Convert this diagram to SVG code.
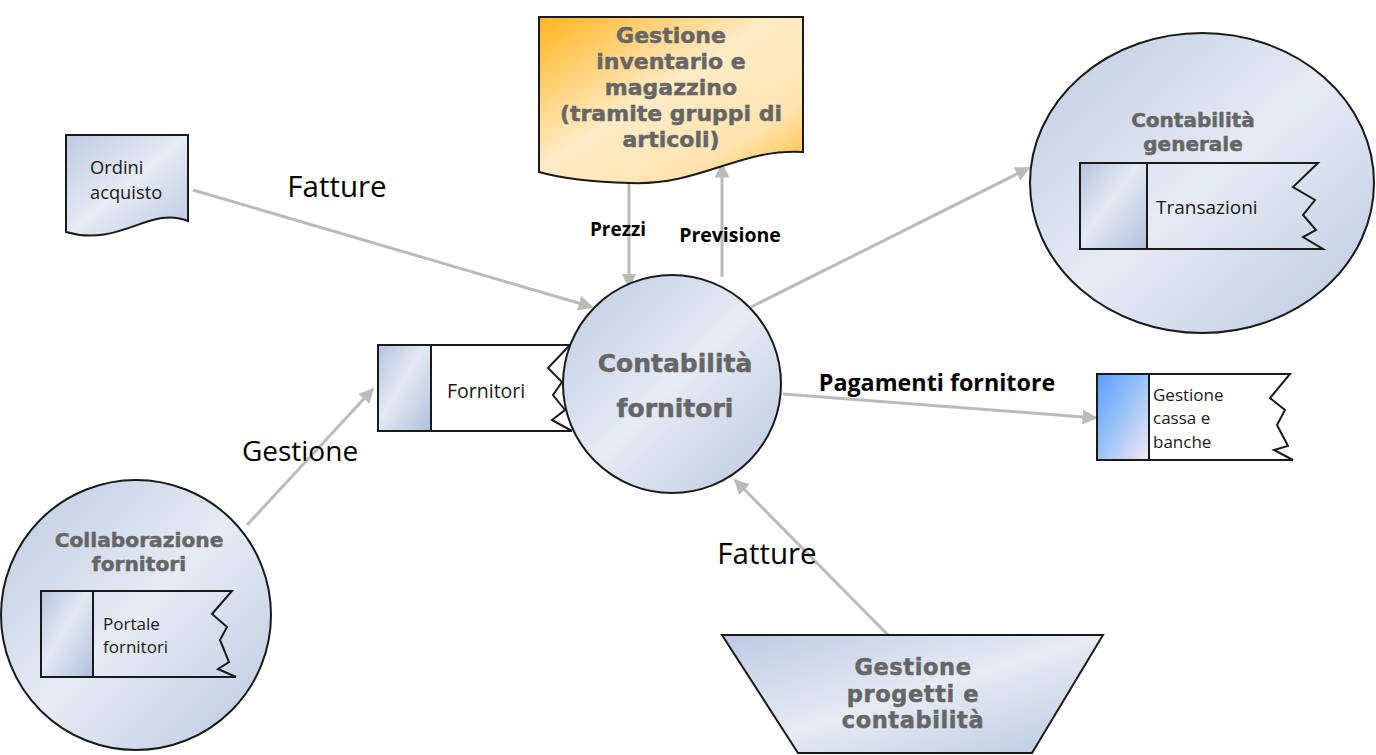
<svg xmlns="http://www.w3.org/2000/svg" width="1376" height="755" viewBox="0 0 1376 755">
<style>
.edge{stroke:#BBBBBB;stroke-width:3;fill:none;marker-end:url(#ah)}
.ol{stroke:#1A1A1A;stroke-width:2}
.title{font-family:"DejaVu Sans","Open Sans",sans-serif;font-weight:bold;fill:#666666;stroke:#666666;stroke-width:0.5;text-anchor:middle}
.small{font-family:"Open Sans","Noto Sans",sans-serif;fill:#1A1A1A}
.lbl{font-family:"Open Sans","Noto Sans",sans-serif;fill:#000000}
.blbl{font-family:"Open Sans","Noto Sans",sans-serif;font-weight:bold;fill:#000000}
</style>
<defs>
<linearGradient id="gb" x1="0" y1="0" x2="1" y2="1">
<stop offset="0" stop-color="#BCCAE2"/>
<stop offset="0.5" stop-color="#E6EBF4"/>
<stop offset="1" stop-color="#B9C8E0"/>
</linearGradient>
<linearGradient id="gsq" x1="0" y1="0" x2="1" y2="1">
<stop offset="0" stop-color="#B3C3DF"/>
<stop offset="0.45" stop-color="#E4E9F3"/>
<stop offset="1" stop-color="#AFC0DC"/>
</linearGradient>
<linearGradient id="go" x1="0" y1="0" x2="1" y2="1">
<stop offset="0" stop-color="#FFB41E"/>
<stop offset="0.45" stop-color="#FFEBC6"/>
<stop offset="0.75" stop-color="#FFE4B0"/>
<stop offset="1" stop-color="#FFBA2E"/>
</linearGradient>
<linearGradient id="gblue" x1="0" y1="0" x2="1" y2="1">
<stop offset="0" stop-color="#5A9CFF"/>
<stop offset="0.5" stop-color="#9CC4F8"/>
<stop offset="1" stop-color="#F4E8F4"/>
</linearGradient>
<marker id="ah" viewBox="0 0 10 10" refX="9" refY="5" markerWidth="5" markerHeight="5" orient="auto" markerUnits="strokeWidth">
<path d="M0,0 L10,5 L0,10 Z" fill="#BBBBBB"/>
</marker>
</defs>

<g id="connectors">
<line class="edge" x1="193" y1="190" x2="592" y2="307"/>
<line class="edge" x1="629" y1="183" x2="629" y2="287"/>
<line class="edge" x1="722" y1="277" x2="722" y2="164"/>
<line class="edge" x1="751" y1="307" x2="1029" y2="168"/>
<line class="edge" x1="783" y1="394" x2="1096" y2="418"/>
<line class="edge" x1="247" y1="525" x2="373" y2="389"/>
<line class="edge" x1="888" y1="635" x2="735" y2="480"/>
</g>

<g id="labels">
<text class="lbl" x="337" y="197" font-size="29.5" text-anchor="middle">Fatture</text>
<text class="lbl" x="300" y="461" font-size="28" text-anchor="middle">Gestione</text>
<text class="lbl" x="767" y="564" font-size="29.5" text-anchor="middle">Fatture</text>
<text class="blbl" x="618" y="236" font-size="19" text-anchor="middle">Prezzi</text>
<text class="blbl" x="730" y="242" font-size="19.5" text-anchor="middle">Previsione</text>
<text class="blbl" x="937" y="391" font-size="23.3" text-anchor="middle">Pagamenti fornitore</text>
</g>

<g id="ordini-acquisto">
<path class="ol" fill="url(#gb)" d="M66,135 H188 V221 C150,205 120,248 66,232 Z"/>
<text class="small" x="90" y="174" font-size="18.3">Ordini</text>
<text class="small" x="90" y="199" font-size="18.3">acquisto</text>
</g>

<g id="gestione-inventario">
<path class="ol" fill="url(#go)" d="M539,17 H803 V152 C740,148 700,186 630,183 C590,182 560,178 539,172 Z"/>
<text class="title" font-size="22"><tspan x="671" y="43">Gestione</tspan><tspan x="671" y="69">inventario e</tspan><tspan x="671" y="95">magazzino</tspan><tspan x="671" y="121">(tramite gruppi di</tspan><tspan x="671" y="147">articoli)</tspan></text>
</g>

<g id="contabilita-generale">
<ellipse class="ol" cx="1202" cy="183" rx="172" ry="150" fill="url(#gb)"/>
<text class="title" font-size="20"><tspan x="1193" y="127">Contabilità</tspan><tspan x="1193" y="150.5">generale</tspan></text>
<rect class="ol" x="1080" y="163" width="67" height="86" fill="url(#gsq)"/>
<path class="ol" fill="none" d="M1147,163 H1318 L1293,187 L1315,200 L1303,215 L1316,230 L1303,237 L1323,249 H1147"/>
<text class="small" x="1156" y="214" font-size="19">Transazioni</text>
</g>

<g id="fornitori">
<path class="ol" fill="#FFFFFF" d="M431,345 H570 L548,368 L562,382 L553,395 L565,410 L552,420 L572,431 H431 Z"/>
<rect class="ol" x="378" y="345" width="53" height="86" fill="url(#gsq)"/>
<text class="small" x="447" y="398" font-size="19.5">Fornitori</text>
</g>

<g id="contabilita-fornitori">
<circle class="ol" cx="672" cy="384" r="109" fill="url(#gb)"/>
<text class="title" font-size="25"><tspan x="675" y="372">Contabilità</tspan><tspan x="675" y="417">fornitori</tspan></text>
</g>

<g id="gestione-cassa">
<path class="ol" fill="#FFFFFF" d="M1149,374 H1290 L1270,398 L1285,410 L1277,425 L1288,446 L1274,450 L1293,460 H1149 Z"/>
<rect class="ol" x="1097" y="374" width="52" height="86" fill="url(#gblue)"/>
<text class="small" font-size="17"><tspan x="1153" y="401">Gestione</tspan><tspan x="1153" y="424.3">cassa e</tspan><tspan x="1153" y="447.6">banche</tspan></text>
</g>

<g id="collaborazione-fornitori">
<ellipse class="ol" cx="136" cy="615" rx="135" ry="135" fill="url(#gb)"/>
<text class="title" font-size="20.2"><tspan x="139" y="547">Collaborazione</tspan><tspan x="139" y="571">fornitori</tspan></text>
<rect class="ol" x="41" y="591" width="52" height="86" fill="url(#gsq)"/>
<path class="ol" fill="none" d="M93,591 H232 L212,614 L227,627 L220,640 L229,662 L218,669 L236,677 H93"/>
<text class="small" font-size="17"><tspan x="103" y="630">Portale</tspan><tspan x="103" y="653.3">fornitori</tspan></text>
</g>

<g id="gestione-progetti">
<path class="ol" fill="url(#gb)" d="M722,635 H1103 L1032,753 H798 Z"/>
<text class="title" font-size="22.5" letter-spacing="0.6"><tspan x="913" y="675">Gestione</tspan><tspan x="913" y="701.5">progetti e</tspan><tspan x="913" y="728">contabilità</tspan></text>
</g>
</svg>
